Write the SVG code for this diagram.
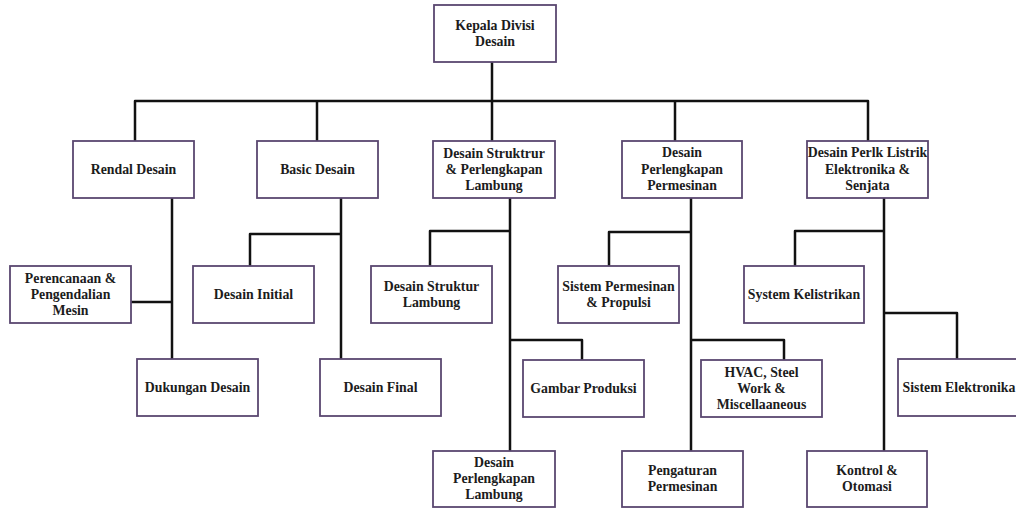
<svg xmlns="http://www.w3.org/2000/svg" width="1016" height="508" viewBox="0 0 1016 508">
<style>
.box{fill:#ffffff;stroke:#5a4770;stroke-width:1.8}
.t{font-family:"Liberation Serif","Times New Roman",serif;font-weight:bold;font-size:13.8px;fill:#1c1c1c;text-anchor:middle}
.c{fill:none;stroke:#111111;stroke-width:2.5;stroke-linecap:round;stroke-linejoin:round}
</style>
<rect width="1016" height="508" fill="#ffffff"/>
<g id="connectors">
<path class="c" d="M492,62 V101 M135,141 V101 H868 V141 M317,101 V141 M492,101 V141 M675,101 V141"/>
<path class="c" d="M172,198 V359 M131,302 H172"/>
<path class="c" d="M341,198 V359 M250,266 V234 H341"/>
<path class="c" d="M510,198 V451 M430,266 V231 H510 M510,340 H582 V360"/>
<path class="c" d="M691,198 V451 M609,266 V232 H691 M691,340 H784 V359"/>
<path class="c" d="M884,198 V451 M795,266 V231 H884 M884,313 H957 V359"/>
</g>
<g id="kepala"><rect class="box" x="434" y="5" width="122" height="57"/><text class="t" x="495" y="30">Kepala Divisi</text><text class="t" x="495" y="46">Desain</text></g>
<g id="rendal"><rect class="box" x="73" y="141" width="121" height="57"/><text class="t" x="133.5" y="174">Rendal Desain</text></g>
<g id="basic"><rect class="box" x="257" y="141" width="121" height="57"/><text class="t" x="317.5" y="174">Basic Desain</text></g>
<g id="struktur"><rect class="box" x="433" y="141" width="122" height="57"/><text class="t" x="494" y="158">Desain Struktrur</text><text class="t" x="494" y="174">&amp; Perlengkapan</text><text class="t" x="494" y="190">Lambung</text></g>
<g id="dpp"><rect class="box" x="622" y="141" width="120" height="57"/><text class="t" x="682" y="157">Desain</text><text class="t" x="682" y="173.5">Perlengkapan</text><text class="t" x="682" y="190">Permesinan</text></g>
<g id="listrik"><rect class="box" x="807" y="141" width="121" height="57"/><text class="t" x="867.5" y="157">Desain Perlk Listrik</text><text class="t" x="867.5" y="173.5">Elektronika &amp;</text><text class="t" x="867.5" y="190">Senjata</text></g>
<g id="perencanaan"><rect class="box" x="10" y="266" width="121" height="57"/><text class="t" x="70.5" y="283">Perencanaan &amp;</text><text class="t" x="70.5" y="299">Pengendalian</text><text class="t" x="70.5" y="315">Mesin</text></g>
<g id="initial"><rect class="box" x="193" y="266" width="121" height="57"/><text class="t" x="253.5" y="299">Desain Initial</text></g>
<g id="dsl"><rect class="box" x="371" y="266" width="121" height="57"/><text class="t" x="431.5" y="291">Desain Struktur</text><text class="t" x="431.5" y="307">Lambung</text></g>
<g id="spp"><rect class="box" x="558" y="266" width="121" height="57"/><text class="t" x="618.5" y="291">Sistem Permesinan</text><text class="t" x="618.5" y="307">&amp; Propulsi</text></g>
<g id="kelistrikan"><rect class="box" x="744" y="266" width="120" height="57"/><text class="t" x="804" y="299">System Kelistrikan</text></g>
<g id="dukungan"><rect class="box" x="137" y="359" width="121" height="57"/><text class="t" x="197.5" y="392">Dukungan Desain</text></g>
<g id="final"><rect class="box" x="320" y="359" width="121" height="57"/><text class="t" x="380.5" y="392">Desain Final</text></g>
<g id="gambar"><rect class="box" x="523" y="360" width="121" height="57"/><text class="t" x="583.5" y="393">Gambar Produksi</text></g>
<g id="hvac"><rect class="box" x="701" y="360" width="121" height="57"/><text class="t" x="761.5" y="377">HVAC, Steel</text><text class="t" x="761.5" y="393">Work &amp;</text><text class="t" x="761.5" y="409">Miscellaaneous</text></g>
<g id="elektronika"><rect class="box" x="898" y="359" width="122" height="57"/><text class="t" x="959" y="392">Sistem Elektronika</text></g>
<g id="dpl"><rect class="box" x="433" y="451" width="122" height="56"/><text class="t" x="494" y="467">Desain</text><text class="t" x="494" y="483">Perlengkapan</text><text class="t" x="494" y="499">Lambung</text></g>
<g id="pengaturan"><rect class="box" x="622" y="451" width="121" height="56"/><text class="t" x="682.5" y="475">Pengaturan</text><text class="t" x="682.5" y="491">Permesinan</text></g>
<g id="kontrol"><rect class="box" x="807" y="451" width="120" height="56"/><text class="t" x="867" y="475">Kontrol &amp;</text><text class="t" x="867" y="491">Otomasi</text></g>
</svg>
